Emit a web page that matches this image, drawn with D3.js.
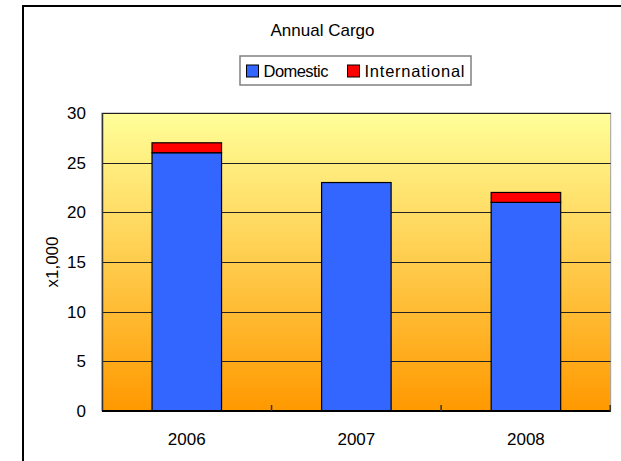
<!DOCTYPE html>
<html>
<head>
<meta charset="utf-8">
<script src="https://cdn.jsdelivr.net/npm/d3@7"></script>
<style>
  body { margin: 0; background: #fff; }
  text { font-family: "Liberation Sans", Arial, sans-serif; fill: #000; }
</style>
</head>
<body>
<div id="container"></div>
<script>
// data
var years = ["2006", "2007", "2008"];
var domestic = [26, 23, 21];
var international = [1, 0, 1];
var yTicks = [0, 5, 10, 15, 20, 25, 30];
var seriesNames = ["Domestic", "International"];
var seriesColors = ["#3366FF", "#FF0000"];

var w = 621, h = 461;
var svg = d3.select("div#container").append("svg")
    .attr("width", w).attr("height", h);

var rows = years.map(function(y, i) {
  return { year: y, Domestic: domestic[i], International: international[i] };
});

var x = d3.scaleBand().domain(years).range([102, 610.7])
    .paddingInner(0.59).paddingOuter(0.295);
var y = d3.scaleLinear().domain([0, 30]).range([411, 113]);
var color = d3.scaleOrdinal().domain(seriesNames).range(seriesColors);

// outer frame
svg.append("rect")
  .attr("x", 23).attr("y", 6)
  .attr("width", 640).attr("height", 480)
  .style("fill", "none").style("stroke", "#000").style("stroke-width", 2);

// background gradient
var grad = svg.append("defs").append("linearGradient")
  .attr("id", "bg").attr("x1", 0).attr("y1", 0).attr("x2", 0).attr("y2", 1);
grad.append("stop").attr("offset", "0%").attr("stop-color", "#FFFF99");
grad.append("stop").attr("offset", "100%").attr("stop-color", "#FF9900");

var x0 = x.range()[0], x1 = x.range()[1];
svg.append("rect")
  .attr("x", x0).attr("y", y(30))
  .attr("width", x1 - x0).attr("height", y(0) - y(30))
  .style("fill", "url(#bg)")
  .style("stroke", "#a0a0a0").style("stroke-width", 1);

// gridlines
svg.append("g").selectAll("line")
  .data(yTicks.slice(1))
  .enter().append("line")
  .attr("x1", x0).attr("x2", x1)
  .attr("y1", function(d) { return Math.round(y(d)) + 0.5; })
  .attr("y2", function(d) { return Math.round(y(d)) + 0.5; })
  .style("stroke", "#222").style("stroke-width", 1);

// y labels
svg.append("g").selectAll("text")
  .data(yTicks)
  .enter().append("text")
  .attr("x", 86)
  .attr("y", function(d) { return y(d); })
  .attr("dy", "0.36em")
  .attr("text-anchor", "end")
  .style("font-size", "17px")
  .text(function(d) { return d; });

// stacked bars
var stacked = d3.stack().keys(seriesNames)(rows);
svg.append("g").selectAll("g")
  .data(stacked)
  .enter().append("g")
  .attr("fill", function(d) { return color(d.key); })
  .selectAll("rect")
  .data(function(d) { return d.filter(function(p) { return p[1] > p[0]; }); })
  .enter().append("rect")
  .attr("x", function(d) { return x(d.data.year); })
  .attr("width", x.bandwidth())
  .attr("y", function(d) { return y(d[1]); })
  .attr("height", function(d) { return y(d[0]) - y(d[1]); })
  .style("stroke", "#000").style("stroke-width", 1.2);

// axes lines
svg.append("line")
  .attr("x1", x0 + 0.5).attr("x2", x0 + 0.5)
  .attr("y1", y(30)).attr("y2", y(0))
  .style("stroke", "#333").style("stroke-width", 1.5);
svg.append("line")
  .attr("x1", x0).attr("x2", x1)
  .attr("y1", y(0)).attr("y2", y(0))
  .style("stroke", "#000").style("stroke-width", 2);

// category boundary ticks
var bounds = [x0 + x.step(), x0 + 2 * x.step(), x1 - 0.5];
svg.append("g").selectAll("line")
  .data(bounds)
  .enter().append("line")
  .attr("x1", function(d) { return d; }).attr("x2", function(d) { return d; })
  .attr("y1", y(0) - 6).attr("y2", y(0))
  .style("stroke", "#333").style("stroke-width", 1.5);

// x labels
svg.append("g").selectAll("text")
  .data(years)
  .enter().append("text")
  .attr("x", function(d) { return x(d) + x.bandwidth() / 2; })
  .attr("y", 445)
  .attr("text-anchor", "middle")
  .style("font-size", "17px")
  .text(function(d) { return d; });

// y title
svg.append("text")
  .attr("transform", "translate(58,262) rotate(-90)")
  .attr("text-anchor", "middle")
  .style("font-size", "17px")
  .text("x1,000");

// title
svg.append("text")
  .attr("x", 322.5).attr("y", 36)
  .attr("text-anchor", "middle")
  .style("font-size", "17px")
  .text("Annual Cargo");

// legend
var lg = svg.append("g");
lg.append("rect")
  .attr("x", 240).attr("y", 56).attr("width", 231).attr("height", 29)
  .style("fill", "#fff").style("stroke", "#808080").style("stroke-width", 1.5);
var lx = [246.5, 347.5];
var lw = [65, 100];
seriesNames.forEach(function(name, i) {
  lg.append("rect")
    .attr("x", lx[i]).attr("y", 65).attr("width", 12).attr("height", 12)
    .style("fill", color(name)).style("stroke", "#000").style("stroke-width", 1);
  lg.append("text")
    .attr("x", lx[i] + 17).attr("y", 77)
    .attr("textLength", lw[i])
    .style("font-size", "16.5px")
    .text(name);
});
</script>
</body>
</html>
